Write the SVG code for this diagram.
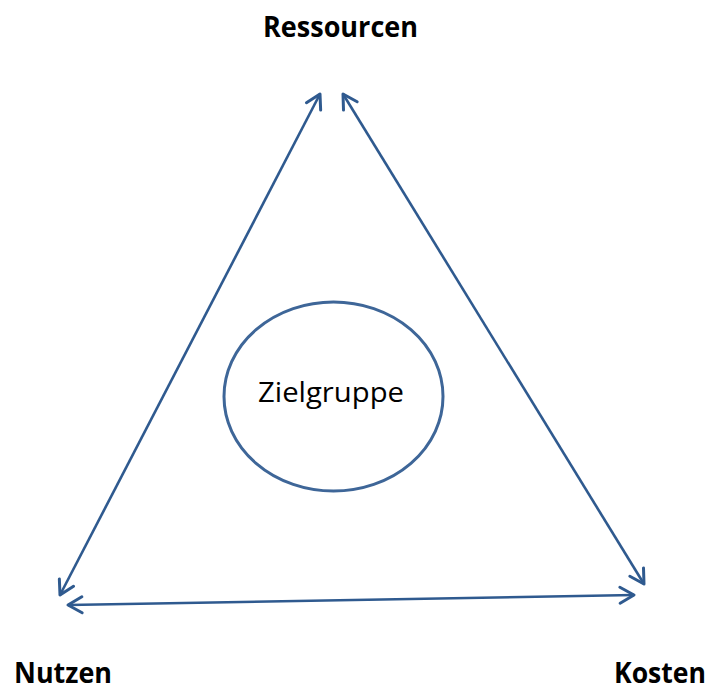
<svg xmlns="http://www.w3.org/2000/svg" width="710" height="686" viewBox="0 0 710 686">
<style>
.lbl{font-family:"Open Sans","Liberation Sans",sans-serif;font-weight:bold;font-size:29px;fill:#000}
.inner{font-family:"Open Sans","Liberation Sans",sans-serif;font-size:28px;fill:#000}
.conn{stroke:#2F5A8F;stroke-width:2.6;fill:none;marker-start:url(#ah);marker-end:url(#ah)}
</style>
<defs>
<marker id="ah" markerUnits="userSpaceOnUse" markerWidth="30" markerHeight="30" viewBox="-20 -15 30 30" refX="0" refY="0" orient="auto-start-reverse">
<path d="M-14,-8 L0,0 L-14,8" fill="none" stroke="#2F5A8F" stroke-width="3" stroke-linecap="round" stroke-linejoin="round"/>
</marker>
</defs>
<rect width="710" height="686" fill="#fff"/>
<g id="connectors">
<line class="conn" x1="60" y1="595" x2="320" y2="94"/>
<line class="conn" x1="343" y1="94" x2="644" y2="584"/>
<line class="conn" x1="68" y1="605" x2="634" y2="595"/>
</g>
<g id="ressourcen"><text class="lbl" x="263" y="37" textLength="155" lengthAdjust="spacingAndGlyphs">Ressourcen</text></g>
<g id="nutzen"><text class="lbl" x="14" y="683" textLength="98" lengthAdjust="spacingAndGlyphs">Nutzen</text></g>
<g id="kosten"><text class="lbl" x="614" y="683" textLength="92" lengthAdjust="spacingAndGlyphs">Kosten</text></g>
<g id="zielgruppe">
<ellipse cx="333.5" cy="396.5" rx="109.5" ry="94.5" fill="#fff" stroke="#3E6698" stroke-width="3"/>
<text class="inner" x="258" y="402" textLength="146" lengthAdjust="spacingAndGlyphs">Zielgruppe</text>
</g>
</svg>
